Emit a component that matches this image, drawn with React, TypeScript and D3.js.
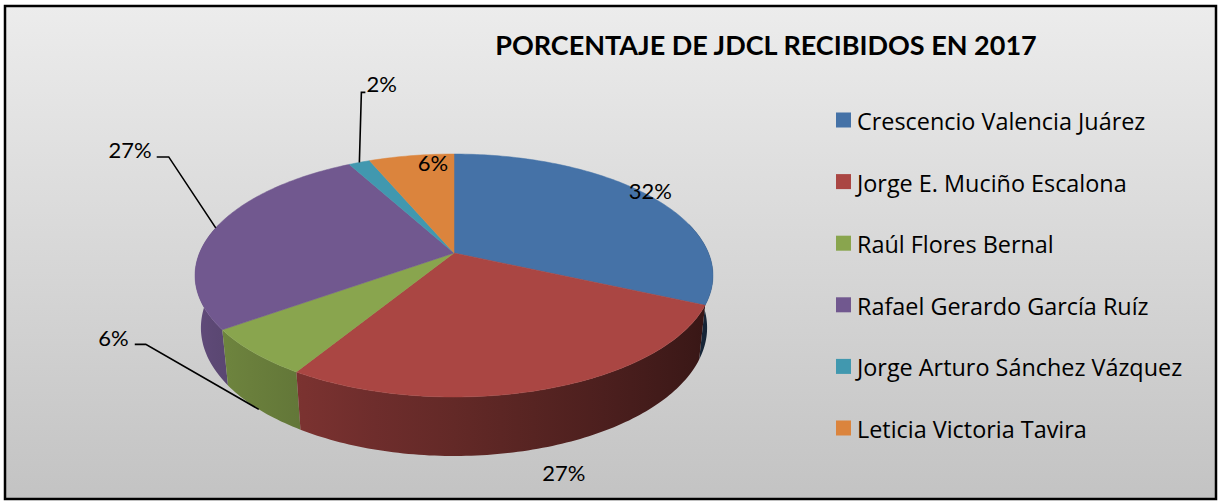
import * as d3 from "d3";

const names = [
  "Crescencio Valencia Juárez",
  "Jorge E. Muciño Escalona",
  "Raúl Flores Bernal",
  "Rafael Gerardo García Ruíz",
  "Jorge Arturo Sánchez Vázquez",
  "Leticia Victoria Tavira",
];
const counts = [20, 17, 4, 17, 1, 4];
const colors = ["#4572A7", "#AA4643", "#89A54E", "#71588F", "#4198AF", "#DB843D"];
const title = "PORCENTAJE DE JDCL RECIBIDOS EN 2017";

const W = 1219;
const H = 501;
const FONT = "Lato, 'Open Sans', sans-serif";

// perspective camera for the 3D pie
const cam = { cx: 454, cy: 253, k: 1219, d: 4.79, phi: Math.asin(0.461), h: 0.233 };

function project(r: number, theta: number, level: number): [number, number] {
  const s = Math.sin(cam.phi);
  const c = Math.cos(cam.phi);
  const y = -level * cam.h;
  const depth = cam.d - y * s - r * Math.sin(theta) * c;
  const xs = r * Math.cos(theta);
  const ys = y * c - r * Math.sin(theta) * s;
  return [cam.cx + (cam.k * xs) / depth, cam.cy - (cam.k * ys) / depth];
}

// label placement: where the label hangs off the slice
const labelLayout = [
  { at: "top", r: 1.0, dx: 2, dy: -5 },
  { at: "bottom", r: 1.0, dx: 21, dy: 25 },
  { at: "bottom", r: 1.0, leader: [-113, -65], arm: -11, dx: -6, dy: -7 },
  { at: "top", r: 1.0, leader: [-47, -71], arm: -12, dx: -5, dy: -7 },
  { at: "top", r: 1.0, leader: [2, -70], arm: 4, dx: 1, dy: -9 },
  { at: "top", r: 0.9, dx: 18, dy: -2 },
];

const rad = Math.PI / 180;
const shadeF = (t: number) => 0.58 - 0.27 * Math.cos(t);

export default function App() {
  const total = d3.sum(counts);
  const arcs = d3.pie<number>().sort(null).value((v) => v)(counts);
  const toTheta = (a: number) => a - Math.PI / 2;
  const line = d3.line();

  const arcPts = (t0: number, t1: number, level: number) => {
    const n = Math.max(2, Math.ceil((t1 - t0) / rad));
    const pts: [number, number][] = [];
    for (let j = 0; j <= n; j++) pts.push(project(1, t0 + ((t1 - t0) * j) / n, level));
    return pts;
  };

  // top faces
  const tops = arcs.map((a, i) => {
    const pts = [project(0, 0, 0), ...arcPts(toTheta(a.startAngle), toTheta(a.endAngle), 0)];
    return { d: line(pts) + "Z", fill: colors[i] };
  });

  // visible part of the outer wall
  const wMin = -15 * rad;
  const wMax = 195 * rad;
  const walls = arcs
    .map((a, i) => {
      const t0 = Math.max(toTheta(a.startAngle), wMin);
      const t1 = Math.min(toTheta(a.endAngle), wMax);
      if (t1 <= t0) return null;
      const pts = [...arcPts(t0, t1, 0), ...arcPts(t0, t1, 1).reverse()];
      return { d: line(pts) + "Z", i, key: Math.sin((t0 + t1) / 2) };
    })
    .filter((w): w is { d: string; i: number; key: number } => w !== null)
    .sort((p, q) => p.key - q.key);

  // horizontal shading of the wall, sampled along the front rim
  const xl = project(1, Math.PI, 0)[0] - 10;
  const xr = project(1, 0, 0)[0] + 10;
  const stops = d3.range(0, 181, 15).map((deg) => {
    const t = (180 - deg) * rad;
    const x = project(1, t, 0.5)[0];
    return { off: Math.min(1, Math.max(0, (x - xl) / (xr - xl))), f: shadeF(t) };
  });
  const dim = (hex: string, f: number) => {
    const c = d3.rgb(hex);
    return d3.rgb(c.r * f, c.g * f, c.b * f).formatHex();
  };

  // labels
  const labels = arcs.map((a, i) => {
    const L: any = labelLayout[i];
    const mid = toTheta((a.startAngle + a.endAngle) / 2);
    const [ax, ay] = project(L.r, mid, L.at === "top" ? 0 : 1);
    const text = `${Math.round((counts[i] / total) * 100)}%`;
    if (L.leader) {
      const ex = ax + L.leader[0];
      const ey = ay + L.leader[1];
      const hx = ex + L.arm;
      return {
        text,
        path: line([[ax, ay], [ex, ey], [hx, ey]]) as string,
        x: hx + L.dx,
        y: ey + L.dy,
        anchor: L.arm < 0 ? "end" : "start",
      };
    }
    return { text, path: null, x: ax + L.dx, y: ay + L.dy, anchor: "middle" };
  });

  const legendY = d3.scalePoint<number>().domain(d3.range(names.length)).range([120, 428]);

  return (
    <svg width={W} height={H} style={{ position: "absolute", left: 0, top: 0 }} fontFamily={FONT}>
      <defs>
        <linearGradient id="bg" x1="0" y1="0" x2="0" y2="1">
          <stop offset="0" stopColor="#ececec" />
          <stop offset="1" stopColor="#c3c3c3" />
        </linearGradient>
        {colors.map((c, i) => (
          <linearGradient key={i} id={`wall${i}`} gradientUnits="userSpaceOnUse" x1={xl} y1={0} x2={xr} y2={0}>
            {stops.map((s, j) => (
              <stop key={j} offset={s.off} stopColor={dim(c, s.f)} />
            ))}
          </linearGradient>
        ))}
      </defs>
      <rect x={0} y={0} width={W} height={H} fill="#ffffff" />
      <rect x={5} y={6} width={1211} height={493} fill="url(#bg)" stroke="#000" strokeWidth={2.5} />
      <text x={766} y={55} textAnchor="middle" fontSize={27} fontWeight="bold" fill="#000">
        {title}
      </text>
      <g>
        {walls.map((w) => (
          <path key={w.i} d={w.d} fill={`url(#wall${w.i})`} />
        ))}
      </g>
      <g>
        {tops.map((t, i) => (
          <path key={i} d={t.d} fill={t.fill} stroke={t.fill} strokeWidth={0.5} />
        ))}
      </g>
      <g fontSize={22} fill="#000">
        {labels.map((l, i) => (
          <g key={i}>
            {l.path && <path d={l.path} fill="none" stroke="#000" strokeWidth={1.6} />}
            <text x={l.x} y={l.y} textAnchor={l.anchor} dominantBaseline="central">
              {l.text}
            </text>
          </g>
        ))}
      </g>
      <g fontSize={23.4} fontFamily="'Open Sans', Lato, sans-serif">
        {names.map((n, i) => (
          <g key={i} transform={`translate(836,${legendY(i)})`}>
            <rect x={0} y={-7.5} width={15} height={15} fill={colors[i]} />
            <text x={21} y={1} dominantBaseline="central" fill="#000">
              {n}
            </text>
          </g>
        ))}
      </g>
    </svg>
  );
}
